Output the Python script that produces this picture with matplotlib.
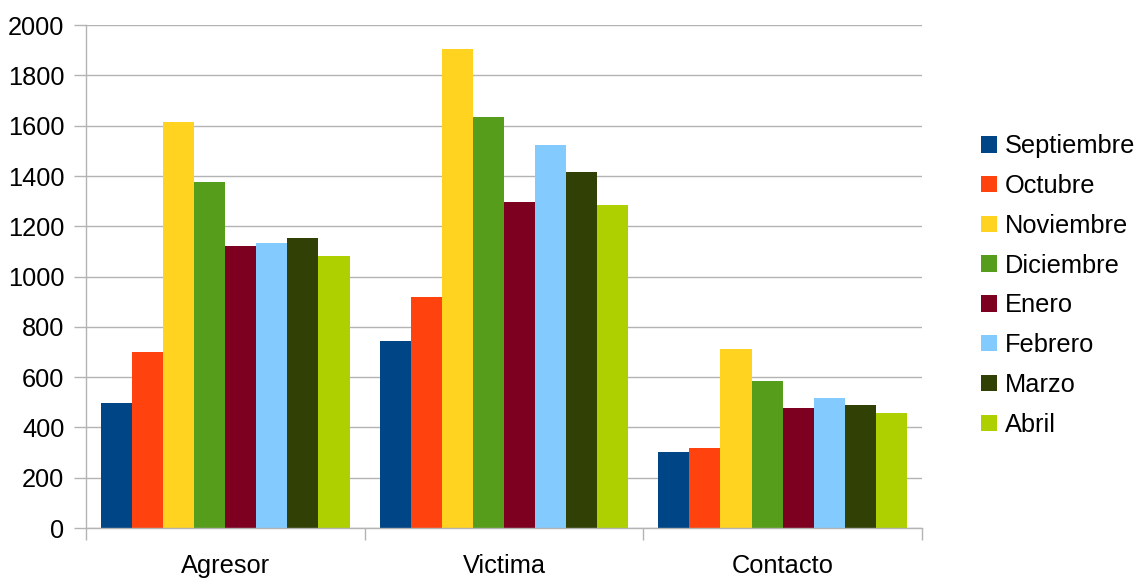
import matplotlib
matplotlib.use("Agg")
import matplotlib.pyplot as plt
from matplotlib.patches import Patch
import numpy as np

categories = ["Agresor", "Victima", "Contacto"]
months = ["Septiembre", "Octubre", "Noviembre", "Diciembre", "Enero", "Febrero", "Marzo", "Abril"]
septiembre = [497, 743, 302]
octubre = [700, 918, 318]
noviembre = [1614, 1904, 712]
diciembre = [1376, 1634, 584]
enero = [1121, 1296, 477]
febrero = [1133, 1523, 517]
marzo = [1153, 1415, 489]
abril = [1081, 1284, 457]
series = [septiembre, octubre, noviembre, diciembre, enero, febrero, marzo, abril]
colors = ["#004586", "#ff420e", "#ffd320", "#579d1c", "#7e0021", "#83caff", "#314004", "#aecf00"]

plt.rcParams['font.family'] = ['Liberation Sans', 'DejaVu Sans']
fig = plt.figure(figsize=(11.46, 5.78), dpi=100)
ax = fig.add_axes([0.075, 0.0865, 0.7295, 0.870])

x = np.arange(len(categories))
w = 0.1115
for i, (vals, c) in enumerate(zip(series, colors)):
    ax.bar(x + (i - 3.5) * w, vals, width=w, color=c, label=months[i], zorder=2)

grid_c = "#b3b3b3"
ax.set_xlim(-0.5, 2.5)
ax.set_ylim(0, 2000)
ax.set_yticks(range(0, 2001, 200))
ax.yaxis.grid(True, color=grid_c, linewidth=1, zorder=0)
ax.set_axisbelow(True)
ax.set_xticks(x)
ax.set_xticklabels(categories)
ax.set_xticks([-0.5, 0.5, 1.5, 2.5], minor=True)
ax.tick_params(axis='x', which='major', length=0, pad=19, labelsize=18.3)
ax.tick_params(axis='x', which='minor', length=8.6, color=grid_c, width=1)
ax.tick_params(axis='y', length=8.6, color=grid_c, width=1, pad=7, labelsize=18.3)
for s in ['top', 'right']:
    ax.spines[s].set_visible(False)
for s in ['left', 'bottom']:
    ax.spines[s].set_color(grid_c)
    ax.spines[s].set_linewidth(1)

handles = [Patch(facecolor=c, edgecolor='none') for c in colors]
fig.legend(handles, months, loc='center left', bbox_to_anchor=(0.856, 0.506),
           frameon=False, fontsize=18.3, handlelength=0.62, handleheight=0.62,
           handletextpad=0.31, labelspacing=0.62, borderpad=0, borderaxespad=0)

fig.savefig("out.png", dpi=100)
